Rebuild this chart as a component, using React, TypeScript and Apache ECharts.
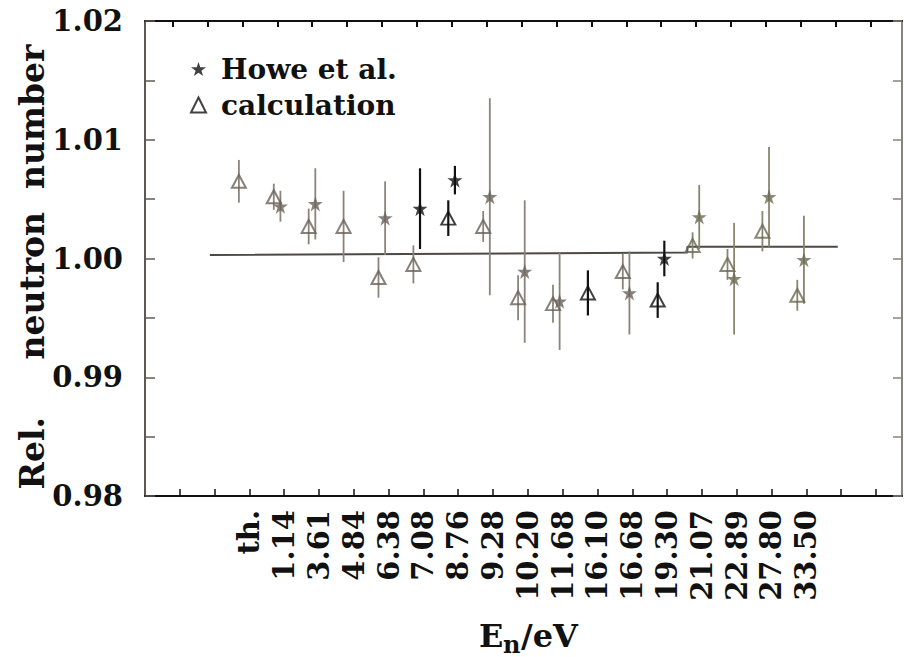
import { useEffect, useRef } from 'react';
import * as echarts from 'echarts';

// Energy labels (bottom axis)
const LABELS = ['th.', '1.14', '3.61', '4.84', '6.38', '7.08', '8.76', '9.28', '10.20', '11.68', '16.10', '16.68', '19.30', '21.07', '22.89', '27.80', '33.50'];

// calculation (open triangles)
const CALC = [1.0065, 1.0052, 1.0027, 1.0027, 0.9984, 0.9995, 1.0034, 1.0027, 0.9967, 0.9962, 0.9971, 0.9989, 0.9965, 1.0011, 0.9995, 1.0023, 0.9969];
const CALC_ERR = [0.0018, 0.0011, 0.0015, 0.0030, 0.0017, 0.0016, 0.0015, 0.0013, 0.0019, 0.0016, 0.0019, 0.0015, 0.0015, 0.0011, 0.0013, 0.0017, 0.0013];

// Howe et al. (stars); null = no measurement
const HOWE = [null, 1.0044, 1.0046, null, 1.0034, 1.0042, 1.0066, 1.0052, 0.9989, 0.9964, null, 0.9971, 1.0000, 1.0035, 0.9983, 1.0052, 0.9999];
const HOWE_ERR = [null, 0.0013, 0.0030, null, 0.0031, 0.0034, 0.0012, 0.0083, 0.0060, 0.0041, null, 0.0035, 0.0015, 0.0027, 0.0047, 0.0042, 0.0037];

// reference line (group position, value)
const REF_X = [-0.93, 12.75, 12.75, 17.06];
const REF_Y = [1.0003, 1.0005, 1.0010, 1.0010];

// print tone of each group in the scanned figure
const CALC_TONE = ['g', 'g', 'g', 'g', 'g', 'g', 'k', 'g', 'g', 'g', 'k', 'g', 'k', 'o', 'o', 'o', 'o'];
const HOWE_TONE = ['g', 'g', 'g', 'g', 'g', 'k', 'k', 'g', 'g', 'g', 'g', 'g', 'k', 'o', 'o', 'o', 'o'];

const MARK_COLOR: Record<string, string> = { k: '#111111', g: '#6a625a', o: '#6c6953' };
const BAR_COLOR: Record<string, string> = { k: '#111111', g: '#8c847b', o: '#88856f' };

const FONT = '"DejaVu Serif", "Liberation Serif", serif';
const G_MIN = -2.79;
const G_MAX = 18.9;
const CALC_SHIFT = -0.1;
const HOWE_SHIFT = 0.09;
const B_MIN = -1;
const B_MAX = 20.75;
const LABEL_START = 2;
const NB = '\u00A0';

const STAR = 'path://M50,0 L61.8,35.3 L98.9,35.3 L68.9,57.1 L80.3,92.7 L50,70.6 L19.7,92.7 L31.1,57.1 L1.1,35.3 L38.2,35.3 Z';

function range(a: number, b: number) {
  const r: number[] = [];
  for (let i = a; i <= b; i++) r.push(i);
  return r;
}

function errRender(params: any, api: any) {
  const x = api.value(0);
  const v = api.value(1);
  const e = api.value(2);
  const tone = api.value(3);
  const p1 = api.coord([x, v - e]);
  const p2 = api.coord([x, v + e]);
  return {
    type: 'line',
    shape: { x1: p1[0], y1: p1[1], x2: p2[0], y2: p2[1] },
    style: { stroke: tone === 1 ? BAR_COLOR.k : tone === 2 ? BAR_COLOR.o : BAR_COLOR.g, lineWidth: tone === 1 ? 2.2 : 1.8 },
  };
}

const toneNum = (t: string) => (t === 'k' ? 1 : t === 'o' ? 2 : 0);

export default function App() {
  const ref = useRef<HTMLDivElement>(null);

  useEffect(() => {
    const chart = echarts.init(ref.current!, null, { renderer: 'svg' });

    const calcErrData = CALC.map((v, i) => [i + CALC_SHIFT, v, CALC_ERR[i], toneNum(CALC_TONE[i])]);
    const calcData = CALC.map((v, i) => ({
      value: [i + CALC_SHIFT, v],
      itemStyle: { borderColor: MARK_COLOR[CALC_TONE[i]] },
    }));
    const howeErrData: any[] = [];
    const howeData: any[] = [];
    HOWE.forEach((v, i) => {
      if (v === null) return;
      howeErrData.push([i + HOWE_SHIFT, v, HOWE_ERR[i], toneNum(HOWE_TONE[i])]);
      howeData.push({ value: [i + HOWE_SHIFT, v], itemStyle: { color: MARK_COLOR[HOWE_TONE[i]] } });
    });
    const refData = REF_X.map((x, i) => [x, REF_Y[i]]);

    const labelText = { color: '#111', fontFamily: FONT, fontWeight: 'bold' as const, fontSize: 29 };
    const yName = 'Rel.' + NB.repeat(5) + 'neutron' + NB.repeat(2) + 'number';

    chart.setOption({
      animation: false,
      backgroundColor: '#ffffff',
      grid: { left: 145, right: 2, top: 21, bottom: 161 },
      legend: {
        data: ['Howe et al.', 'calculation'],
        orient: 'vertical',
        left: 185,
        top: 50,
        itemWidth: 15,
        itemHeight: 15,
        itemGap: 8,
        textStyle: { color: '#111', fontFamily: FONT, fontWeight: 'bold', fontSize: 28, padding: [0, 0, 0, 10] },
      },
      xAxis: [
        {
          type: 'value',
          position: 'top',
          min: G_MIN,
          max: G_MAX,
          axisLine: { show: true, onZero: false, lineStyle: { color: '#111', width: 2 } },
          axisTick: { show: true, inside: true, length: 6, lineStyle: { color: '#111', width: 2 }, customValues: range(-2, 18) },
          axisLabel: { show: false },
          splitLine: { show: false },
        },
        {
          type: 'value',
          position: 'bottom',
          min: B_MIN,
          max: B_MAX,
          interval: 1,
          axisLine: { show: true, onZero: false, lineStyle: { color: '#111', width: 2 } },
          axisTick: { show: true, inside: true, length: 7, lineStyle: { color: '#111', width: 1.5 }, customValues: range(0, 20) },
          axisLabel: {
            ...labelText,
            rotate: 90,
            margin: 14,
            customValues: range(LABEL_START, LABEL_START + LABELS.length - 1),
            formatter: (v: number) => LABELS[Math.round(v) - LABEL_START] ?? '',
          },
          splitLine: { show: false },
        },
      ],
      yAxis: [
        {
          type: 'value',
          position: 'left',
          min: 0.98,
          max: 1.02,
          interval: 0.01,
          axisLine: { show: true, onZero: false, lineStyle: { color: '#5e5850', width: 2 } },
          axisTick: { show: true, inside: true, length: 10, lineStyle: { color: '#5e5850', width: 1.5 } },
          minorTick: { show: true, splitNumber: 2, length: 10, lineStyle: { color: '#5e5850', width: 1.5 } },
          axisLabel: { ...labelText, margin: 22, formatter: (v: number) => v.toFixed(2) },
          splitLine: { show: false },
        },
        {
          type: 'value',
          position: 'right',
          min: 0.98,
          max: 1.02,
          interval: 0.01,
          axisLine: { show: true, onZero: false, lineStyle: { color: '#8a847a', width: 2 } },
          axisTick: { show: true, inside: true, length: 9, lineStyle: { color: '#8a847a', width: 1.5 } },
          minorTick: { show: true, splitNumber: 2, length: 9, lineStyle: { color: '#8a847a', width: 1.5 } },
          axisLabel: { show: false },
          splitLine: { show: false },
        },
      ],
      series: [
        {
          name: 'ref',
          type: 'line',
          xAxisIndex: 0,
          yAxisIndex: 0,
          data: refData,
          showSymbol: false,
          symbol: 'none',
          lineStyle: { color: '#4e4942', width: 2 },
          z: 1,
          silent: true,
        },
        {
          name: 'calcErr',
          type: 'custom',
          xAxisIndex: 0,
          yAxisIndex: 0,
          renderItem: errRender,
          encode: { x: 0, y: 1 },
          data: calcErrData,
          z: 2,
          silent: true,
        },
        {
          name: 'howeErr',
          type: 'custom',
          xAxisIndex: 0,
          yAxisIndex: 0,
          renderItem: errRender,
          encode: { x: 0, y: 1 },
          data: howeErrData,
          z: 2,
          silent: true,
        },
        {
          name: 'calculation',
          type: 'scatter',
          xAxisIndex: 0,
          yAxisIndex: 0,
          symbol: 'triangle',
          symbolSize: [14, 13],
          itemStyle: { color: 'rgba(255,255,255,0)', borderColor: '#111', borderWidth: 2 },
          data: calcData,
          z: 3,
        },
        {
          name: 'Howe et al.',
          type: 'scatter',
          xAxisIndex: 0,
          yAxisIndex: 0,
          symbol: STAR,
          symbolSize: 15,
          itemStyle: { color: '#111' },
          data: howeData,
          z: 4,
        },
      ],
      graphic: [
        {
          type: 'text',
          x: 32,
          y: 267,
          rotation: Math.PI / 2,
          style: { text: yName, font: `bold 33px ${FONT}`, fill: '#111', textAlign: 'center', textVerticalAlign: 'middle', align: 'center', verticalAlign: 'middle' },
        },
        {
          type: 'text',
          x: 479,
          y: 636,
          style: { text: 'E', font: `bold 32px ${FONT}`, fill: '#111', textAlign: 'left', textVerticalAlign: 'middle', align: 'left', verticalAlign: 'middle' },
        },
        {
          type: 'text',
          x: 503,
          y: 644,
          style: { text: 'n', font: `bold 24px ${FONT}`, fill: '#111', textAlign: 'left', textVerticalAlign: 'middle', align: 'left', verticalAlign: 'middle' },
        },
        {
          type: 'text',
          x: 521,
          y: 636,
          style: { text: '/eV', font: `bold 32px ${FONT}`, fill: '#111', textAlign: 'left', textVerticalAlign: 'middle', align: 'left', verticalAlign: 'middle' },
        },
      ],
    });

    return () => chart.dispose();
  }, []);

  return <div ref={ref} style={{ position: 'absolute', left: 0, top: 0, width: 904, height: 657 }} />;
}
